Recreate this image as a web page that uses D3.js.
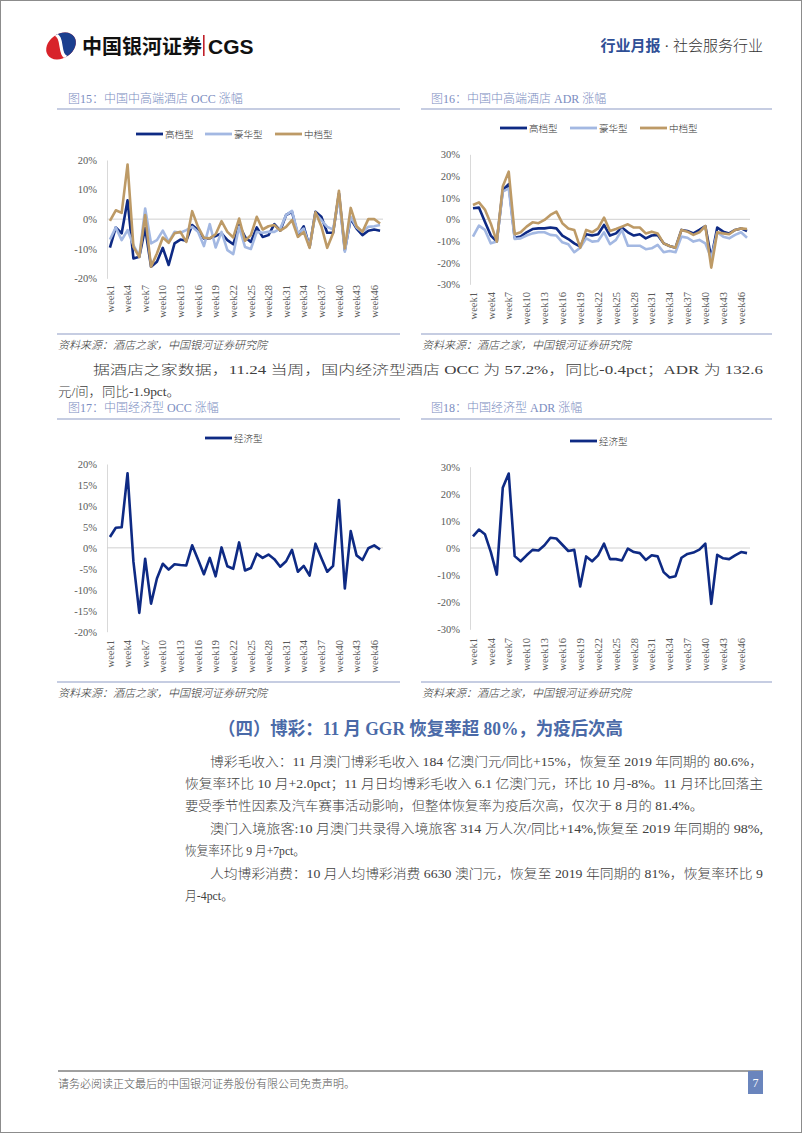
<!DOCTYPE html>
<html><head><meta charset="utf-8">
<script src="https://cdn.jsdelivr.net/npm/d3@7"></script>
<style>body{margin:0;background:#fff}svg{display:block}</style>
</head><body>
<svg id="page" width="802" height="1133"></svg>
<script>
// ---------------- DATA ----------------
const weeks = ["week1","week2","week3","week4","week5","week6","week7","week8","week9","week10",
"week11","week12","week13","week14","week15","week16","week17","week18","week19","week20",
"week21","week22","week23","week24","week25","week26","week27","week28","week29","week30",
"week31","week32","week33","week34","week35","week36","week37","week38","week39","week40",
"week41","week42","week43","week44","week45","week46","week47"];

// Fig15 OCC change (%), mid/high-end hotels
const occHigh = [-9.6,-2.8,-4.8,6.4,-13.3,-12.7,-3.0,-16.1,-14.4,-9.7,-15.5,-8.2,-6.9,-7.3,-2.0,-3.7,-6.5,-6.5,-5.7,-4.8,-7.1,-8.5,-2.0,-6.0,-7.7,-2.8,-6.0,-5.4,-1.7,-3.9,1.4,2.5,-5.4,-2.4,-9.4,2.5,0.8,-4.6,-4.6,8.7,-10.5,0.2,-3.2,-5.4,-3.9,-3.5,-3.9];
const occLux  = [-6.9,-2.8,-7.1,-3.7,-8.8,-12.5,3.6,-8.2,-7.1,-3.9,-7.7,-4.3,-4.6,-3.7,-2.6,-4.3,-9.1,-1.7,-9.6,-4.3,-10.5,-11.8,-2.6,-9.4,-10.1,-4.3,-4.6,-4.3,-4.3,-3.2,1.4,2.8,-4.8,-3.2,-9.4,1.9,-0.3,-2.6,-3.5,7.5,-11.0,0.8,-2.8,-4.3,-2.6,-2.4,-2.0];
const occMid  = [-0.6,3.0,2.1,18.5,-9.4,-12.8,1.4,-16.1,-11.6,-6.2,-8.0,-4.8,-4.3,-7.7,2.7,-2.6,-6.3,-6.5,-5.1,-0.7,-4.3,-6.2,0.2,-7.3,-5.4,0.8,-3.5,-2.4,-2.0,-3.9,-2.6,-0.3,-6.0,-4.3,-9.7,2.3,-2.4,-9.7,-4.8,9.6,-9.9,3.8,-2.4,-4.3,0.0,0.0,-1.5];

// Fig16 ADR change (%), mid/high-end hotels
const adrHigh = [5.1,5.4,-1.1,-7.5,-10.3,13.5,16.2,-8.5,-8.0,-6.0,-4.5,-4.2,-4.2,-3.8,-4.2,-7.5,-9.1,-11.1,-12.6,-6.9,-7.5,-6.9,-2.6,-7.5,-6.5,-3.8,-6.0,-7.5,-6.9,-8.8,-7.5,-7.2,-11.1,-12.3,-13.1,-4.9,-5.4,-6.5,-4.9,-3.1,-18.0,-3.8,-5.7,-6.5,-4.9,-4.2,-5.4];
const adrLux  = [-8.0,-2.9,-4.9,-11.1,-10.3,12.8,14.3,-9.1,-8.8,-7.5,-6.5,-6.0,-6.0,-7.2,-7.5,-10.6,-11.5,-15.2,-13.1,-8.8,-10.3,-10.0,-6.0,-11.5,-9.5,-4.9,-12.2,-12.2,-12.2,-13.8,-13.4,-11.8,-15.2,-14.6,-15.2,-8.0,-8.5,-10.3,-9.5,-11.1,-18.0,-6.0,-8.0,-8.8,-7.2,-6.0,-8.5];
const adrMid  = [6.6,7.8,4.5,-2.0,-10.3,15.1,22.0,-6.9,-6.0,-3.4,-1.4,-1.8,-0.3,2.0,3.5,-1.8,-4.2,-4.9,-13.1,-4.9,-6.0,-4.2,0.8,-5.4,-4.5,-3.4,-2.3,-3.8,-3.8,-6.5,-5.7,-6.5,-11.1,-12.3,-13.1,-4.9,-5.7,-7.2,-6.0,-3.1,-22.3,-6.0,-6.5,-6.9,-4.9,-4.2,-4.5];

// Fig17 / Fig18 economy hotels (%)
const ecoOcc = [2.6,4.8,4.9,17.8,-3.3,-15.5,-2.6,-13.3,-7.3,-3.8,-5.2,-3.9,-4.1,-4.2,0.6,-2.8,-6.3,-2.4,-6.8,0.1,-4.4,-5.0,1.3,-5.4,-4.8,-1.4,-2.4,-1.6,-2.7,-4.5,-3.2,-0.5,-5.7,-4.3,-6.6,1.0,-2.4,-5.7,-4.3,11.4,-9.7,4.0,-1.8,-2.9,-0.1,0.6,-0.4];
const ecoAdr = [4.3,6.8,5.1,-1.5,-9.8,22.2,27.5,-3.0,-4.9,-2.7,-0.7,-0.9,1.0,3.8,3.5,1.2,-1.1,-0.7,-14.2,-3.1,-4.9,-2.7,1.6,-4.1,-4.1,-4.6,-0.2,-1.5,-1.9,-4.4,-2.7,-3.1,-8.9,-10.9,-10.4,-3.6,-2.2,-1.7,-0.6,1.6,-20.6,-2.5,-3.8,-4.1,-2.7,-1.5,-1.9];

const ticks20 = [-20,-10,0,10,20];
const ticks30 = [-30,-20,-10,0,10,20,30];
const ticks5  = [-20,-15,-10,-5,0,5,10,15,20];
const seriesNames = ["高档型","豪华型","中档型"];
const ecoName = "经济型";

// ---------------- STYLE ----------------
const C_DARK = "#0e2a84", C_LIGHT = "#a3b8e2", C_GOLD = "#bd9a66";
const SERIF = "'Liberation Serif','Noto Sans CJK SC',serif";
const svg = d3.select("#page");

// page border
svg.append("rect").attr("x",0.5).attr("y",0.5).attr("width",801).attr("height",1132)
  .attr("fill","none").attr("stroke","#8c8c8c");

// ---------------- HEADER ----------------
const logo = svg.append("g").attr("transform","translate(61,46) rotate(-35)");
svg.append("defs").append("clipPath").attr("id","lc").append("ellipse").attr("rx",16).attr("ry",12);
const lg = logo.append("g").attr("clip-path","url(#lc)");
lg.append("rect").attr("x",-20).attr("y",-20).attr("width",40).attr("height",40).attr("fill","#d8232a");
lg.append("path").attr("d","M 0,-20 C 9,-8 -9,8 0,20 L 20,20 L 20,-20 Z").attr("fill","#1b3f8f");
lg.append("path").attr("d","M 1,-14 C 9,-6 -9,6 -1,14").attr("fill","none").attr("stroke","#fff").attr("stroke-width",3.2);
svg.append("text").attr("x",82).attr("y",54).attr("font-family","'Noto Sans CJK SC',sans-serif")
  .attr("font-weight","bold").attr("font-size",20).attr("fill","#111").text("中国银河证券");
svg.append("rect").attr("x",203).attr("y",35).attr("width",1.6).attr("height",21).attr("fill","#c0202a");
svg.append("text").attr("x",208).attr("y",54).attr("font-family","'Liberation Sans',Arial,sans-serif")
  .attr("font-weight","bold").attr("font-size",21).attr("fill","#111").text("CGS");
const hr = svg.append("text").attr("x",763).attr("y",51).attr("text-anchor","end")
  .attr("font-family",SERIF).attr("font-size",15);
hr.append("tspan").attr("fill","#2f4f96").attr("font-weight","bold").text("行业月报");
hr.append("tspan").attr("fill","#333").attr("font-weight",300).text(" · 社会服务行业");

// ---------------- CHARTS ----------------
function drawChart(cfg){
  const g = svg.append("g");
  const x = d3.scaleBand().domain(weeks).range([cfg.x0, cfg.x1]);
  const y = d3.scaleLinear().domain(cfg.domain).range([cfg.yBot, cfg.yTop]);
  g.append("text").attr("x",cfg.titleX).attr("y",cfg.titleY).attr("font-family",SERIF)
    .attr("font-size",12).attr("font-weight",300).attr("fill","#7b8dbf").text(cfg.title);
  g.append("line").attr("x1",cfg.ruleX0).attr("x2",cfg.ruleX1).attr("y1",cfg.ruleTop).attr("y2",cfg.ruleTop)
    .attr("stroke","#8e9bc6").attr("stroke-width",1.2);
  g.append("line").attr("x1",cfg.ruleX0).attr("x2",cfg.ruleX1).attr("y1",cfg.ruleBot).attr("y2",cfg.ruleBot)
    .attr("stroke","#8e9bc6").attr("stroke-width",1.2);
  g.append("text").attr("x",cfg.ruleX0+1).attr("y",cfg.ruleBot+15).attr("font-family",SERIF)
    .attr("font-size",11).attr("font-style","italic").attr("font-weight",300).attr("fill","#333").text("资料来源：酒店之家，中国银河证券研究院");
  const ya = d3.axisLeft(y).tickValues(cfg.ticks).tickSize(0).tickSizeOuter(0)
    .tickPadding(cfg.x0 - cfg.labelX).tickFormat(d => d + "%");
  const yg = g.append("g").attr("transform",`translate(${cfg.x0},0)`).call(ya);
  yg.attr("font-family",SERIF).attr("font-size",10.5);
  yg.select(".domain").attr("stroke","#d9d9d9");
  yg.selectAll("text").attr("fill","#595959");
  g.append("line").attr("x1",cfg.x0).attr("x2",cfg.x1).attr("y1",y(0)).attr("y2",y(0))
    .attr("stroke","#d0d0d0").attr("stroke-width",1);
  const xa = d3.axisBottom(x).tickValues(weeks.filter((d,i)=>i%3===0)).tickSize(0);
  const xg = g.append("g").attr("transform",`translate(0,${cfg.yBot})`).call(xa);
  xg.attr("font-family",SERIF).attr("font-size",10.5);
  xg.select(".domain").remove();
  xg.selectAll("text").attr("fill","#595959").attr("transform","rotate(-90)")
    .attr("text-anchor","end").attr("x",-(cfg.weekTop - cfg.yBot)).attr("y",0).attr("dy","0.35em");
  const line = d3.line().x((d,i)=>x(weeks[i]) + x.bandwidth()/2).y(d=>y(d));
  cfg.series.forEach(s=>{
    g.append("path").datum(s.values).attr("d",line).attr("fill","none")
      .attr("stroke",s.color).attr("stroke-width",2.6).attr("stroke-linejoin","round");
  });
  cfg.series.forEach((s,i)=>{
    const lx = cfg.legendX[i];
    g.append("line").attr("x1",lx).attr("x2",lx+27).attr("y1",cfg.legendY).attr("y2",cfg.legendY)
      .attr("stroke",s.color).attr("stroke-width",2.8);
    g.append("text").attr("x",lx+29).attr("y",cfg.legendY+3.5).attr("font-family",SERIF)
      .attr("font-size",9.5).attr("font-weight",300).attr("fill","#333").text(s.name);
  });
}

drawChart({title:"图15：中国中高端酒店 OCC 涨幅", titleX:68, titleY:103, ruleX0:57, ruleX1:400, ruleTop:109, ruleBot:334,
  x0:107, x1:383, yTop:160, yBot:278.3, domain:[-20,20], ticks:ticks20, labelX:97, weekTop:285,
  legendY:134, legendX:[136,205,275],
  series:[{name:seriesNames[0],values:occHigh,color:C_DARK},{name:seriesNames[1],values:occLux,color:C_LIGHT},{name:seriesNames[2],values:occMid,color:C_GOLD}]});

drawChart({title:"图16：中国中高端酒店 ADR 涨幅", titleX:431, titleY:103, ruleX0:421, ruleX1:772, ruleTop:109, ruleBot:334,
  x0:470, x1:750, yTop:154.3, yBot:284.3, domain:[-30,30], ticks:ticks30, labelX:460, weekTop:292,
  legendY:128, legendX:[500,570,640],
  series:[{name:seriesNames[0],values:adrHigh,color:C_DARK},{name:seriesNames[1],values:adrLux,color:C_LIGHT},{name:seriesNames[2],values:adrMid,color:C_GOLD}]});

drawChart({title:"图17：中国经济型 OCC 涨幅", titleX:68, titleY:412, ruleX0:57, ruleX1:400, ruleTop:419, ruleBot:682,
  x0:107, x1:383, yTop:464, yBot:631.7, domain:[-20,20], ticks:ticks5, labelX:97, weekTop:640,
  legendY:438, legendX:[205],
  series:[{name:ecoName,values:ecoOcc,color:C_DARK}]});

drawChart({title:"图18：中国经济型 ADR 涨幅", titleX:431, titleY:412, ruleX0:421, ruleX1:772, ruleTop:419, ruleBot:682,
  x0:470, x1:750, yTop:466.7, yBot:629.3, domain:[-30,30], ticks:ticks30, labelX:460, weekTop:638,
  legendY:441, legendX:[570],
  series:[{name:ecoName,values:ecoAdr,color:C_DARK}]});

// ---------------- TEXT ----------------
function textLine(t, x, y, w, opts={}){
  const e = svg.append("text").attr("x",x).attr("y",y).attr("font-family",SERIF)
    .attr("font-size",opts.size||13).attr("fill",opts.fill||"#404040").text(t);
  e.attr("font-weight", opts.bold ? "bold" : 300);
  if(w) e.attr("textLength",w).attr("lengthAdjust","spacingAndGlyphs");
  return e;
}
textLine("据酒店之家数据，11.24 当周，国内经济型酒店 OCC 为 57.2%，同比-0.4pct；ADR 为 132.6", 93, 374, 670);
textLine("元/间，同比-1.9pct。", 58, 396, 122);

textLine("（四）博彩：11 月 GGR 恢复率超 80%，为疫后次高", 218, 735, 405, {size:18, bold:true, fill:"#4a6aa8"});

textLine("博彩毛收入：11 月澳门博彩毛收入 184 亿澳门元/同比+15%，恢复至 2019 年同期的 80.6%，", 210, 766, 553);
textLine("恢复率环比 10 月+2.0pct；11 月日均博彩毛收入 6.1 亿澳门元，环比 10 月-8%。11 月环比回落主", 185, 788, 578);
textLine("要受季节性因素及汽车赛事活动影响，但整体恢复率为疫后次高，仅次于 8 月的 81.4%。", 185, 810, 518);
textLine("澳门入境旅客:10 月澳门共录得入境旅客 314 万人次/同比+14%,恢复至 2019 年同期的 98%,", 210, 833, 553);
textLine("恢复率环比 9 月+7pct。", 185, 855, 120);
textLine("人均博彩消费：10 月人均博彩消费 6630 澳门元，恢复至 2019 年同期的 81%，恢复率环比 9", 210, 878, 553);
textLine("月-4pct。", 185, 900, 48);

// ---------------- FOOTER ----------------
svg.append("line").attr("x1",58).attr("x2",763).attr("y1",1071).attr("y2",1071).attr("stroke","#404040").attr("stroke-width",1);
textLine("请务必阅读正文最后的中国银河证券股份有限公司免责声明。", 58, 1088, null, {size:11, fill:"#555"});
svg.append("rect").attr("x",748).attr("y",1071).attr("width",15).attr("height",23).attr("fill","#6a85bd");
svg.append("text").attr("x",755.5).attr("y",1087).attr("text-anchor","middle").attr("font-family",SERIF)
  .attr("font-size",12).attr("fill","#fff").text("7");
</script>
</body></html>
